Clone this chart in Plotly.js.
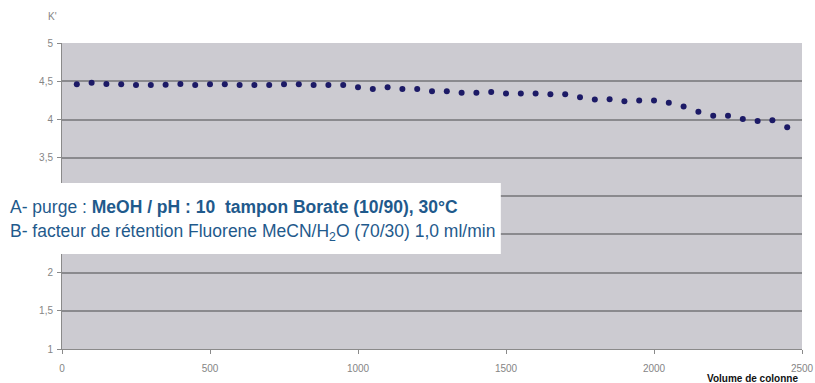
<!DOCTYPE html>
<html>
<head>
<meta charset="utf-8">
<script src="https://cdn.plot.ly/plotly-3.0.1.min.js"></script>
<style>
html,body{margin:0;padding:0;background:#fff;}
#chart{width:815px;height:383px;}
</style>
</head>
<body>
<div id="chart"></div>
<script>
// Data
var volumes = [50,100,150,200,250,300,350,400,450,500,550,600,650,700,750,800,
  850,900,950,1000,1050,1100,1150,1200,1250,1300,1350,1400,1450,1500,1550,1600,1650,
  1700,1750,1800,1850,1900,1950,2000,2050,2100,2150,2200,2250,2300,2350,2400,2450];
var kValues = [4.46,4.48,4.465,4.46,4.45,4.45,4.455,4.465,4.45,4.46,4.46,4.45,4.45,4.45,4.46,4.46,
  4.45,4.45,4.45,4.42,4.40,4.42,4.40,4.40,4.37,4.37,4.35,4.35,4.36,4.34,4.34,4.34,4.33,
  4.33,4.29,4.26,4.265,4.24,4.25,4.25,4.22,4.17,4.10,4.05,4.05,4.005,3.98,3.99,3.90];
var xTicks = [0,500,1000,1500,2000,2500];
var yTicks = [1,1.5,2,2.5,3,3.5,4,4.5,5];
// labels for 2,5 and 3 are hidden behind the white note box in the reference
var yTickLabels = ['1','1,5','2','','','3,5','4','4,5','5'];
var yAxisLabel = "K'";
var xAxisLabel = "Volume de colonne";
var lineA = "A- purge : <b>MeOH / pH : 10&nbsp; tampon Borate (10/90), 30°C</b>";
var lineB = "B- facteur de rétention Fluorene MeCN/H<sub>2</sub>O (70/30) 1,0 ml/min";

var trace = {
  x: volumes, y: kValues, type: 'scatter', mode: 'markers',
  marker: {color: '#1c1a66', size: 6},
  hoverinfo: 'none'
};

var tickFont = {family: 'Liberation Sans, Arial, sans-serif', size: 10, color: '#858585'};
var noteFont = {family: 'Liberation Sans, Arial, sans-serif', size: 17.5, color: '#1f5a8c'};

var layout = {
  width: 815, height: 383,
  margin: {l: 62, r: 13, t: 43, b: 34},
  paper_bgcolor: '#ffffff',
  plot_bgcolor: '#cccbd1',
  separators: ', ',
  showlegend: false,
  xaxis: {
    range: [0, 2500], tickvals: xTicks, ticks: 'outside', ticklen: 4, tickcolor: '#8a8a8a',
    showgrid: false, zeroline: false, showline: true, linecolor: '#8a8a8a', linewidth: 1,
    tickfont: tickFont, ticklabelstandoff: 6, fixedrange: true
  },
  yaxis: {
    range: [1, 5], tickvals: yTicks, ticktext: yTickLabels, ticks: 'outside', ticklen: 4, tickcolor: '#8a8a8a',
    showgrid: true, gridcolor: '#8a8a8e', gridwidth: 2, zeroline: false,
    showline: true, linecolor: '#8a8a8a', linewidth: 1,
    tickfont: tickFont, ticklabelstandoff: 2, fixedrange: true
  },
  shapes: [{
    type: 'rect', xref: 'paper', yref: 'paper', layer: 'above',
    x0: -0.0838, x1: 0.593, y0: 0.3105, y1: 0.5425,
    fillcolor: '#ffffff', line: {width: 0}
  }],
  annotations: [
    {xref: 'paper', yref: 'paper', x: -0.0135, y: 1.085, text: yAxisLabel, showarrow: false,
     font: tickFont, xanchor: 'center', yanchor: 'middle'},
    {xref: 'paper', yref: 'paper', x: 0.9973, y: -0.097, text: '<b>' + xAxisLabel + '</b>', showarrow: false,
     font: {family: 'Liberation Sans, Arial, sans-serif', size: 10, color: '#111111'}, xanchor: 'right', yanchor: 'middle'},
    {xref: 'paper', yref: 'paper', x: -0.073, y: 0.4655, text: lineA, showarrow: false,
     font: noteFont, xanchor: 'left', yanchor: 'middle'},
    {xref: 'paper', yref: 'paper', x: -0.073, y: 0.382, text: lineB, showarrow: false,
     font: noteFont, xanchor: 'left', yanchor: 'middle'}
  ]
};

Plotly.newPlot('chart', [trace], layout, {displayModeBar: false, staticPlot: true});
</script>
</body>
</html>
